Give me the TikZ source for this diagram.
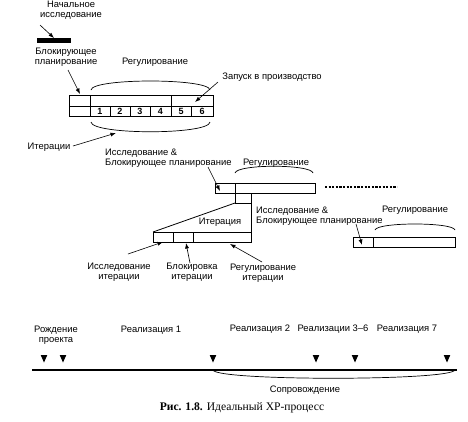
\documentclass[tikz,border=0pt]{standalone}
\usepackage{fontspec}
\setmainfont{Liberation Sans}
\newfontfamily\capfont{Liberation Serif}
\usetikzlibrary{arrows.meta}
\begin{document}
\begin{tikzpicture}[x=1pt,y=-1pt,
  lbl/.style={font=\fontsize{9.4}{10}\selectfont, inner sep=0pt, align=center},
  ptr/.style={-{Latex[length=5.5pt,width=4pt]}, line width=0.6pt},
  bar/.style={line width=0.8pt},
  brace/.style={line width=0.7pt},
]
\useasboundingbox (0,0) rectangle (468,421);

% ---------- labels ----------
\node[lbl] (start) at (71,10) {Начальное\\исследование};
\node[lbl] (block) at (66,57) {Блокирующее\\планирование};
\node[lbl] (reg1) at (155,62) {Регулирование};
\node[lbl] (launch) at (272,77) {Запуск в производство};
\node[lbl] (iters) at (49,147) {Итерации};
\node[lbl, align=left, anchor=west] (res2) at (105,158) {Исследование \&\\Блокирующее планирование};
\node[lbl] (reg2) at (276,163) {Регулирование};
\node[lbl] (itn) at (220,222) {Итерация};
\node[lbl, align=left, anchor=west] (res3) at (256,216) {Исследование \&\\Блокирующее планирование};
\node[lbl] (reg3) at (415,210) {Регулирование};
\node[lbl] (ri) at (119,272) {Исследование\\итерации};
\node[lbl] (bi) at (192,272) {Блокировка\\итерации};
\node[lbl] (gi) at (263,273) {Регулирование\\итерации};

\node[lbl] (birth) at (56,335) {Рождение\\проекта};
\node[lbl] (r1) at (151,330) {Реализация 1};
\node[lbl] (r2) at (260,329) {Реализация 2};
\node[lbl] (r36) at (333,329) {Реализации 3–6};
\node[lbl] (r7) at (407,329) {Реализация 7};
\node[lbl] (sup) at (305,390) {Сопровождение};

\node[font=\capfont\fontsize{11.6}{12}\selectfont, inner sep=0pt] (cap) at (242,408)
  {\textbf{Рис. 1.8.} Идеальный XP-процесс};

% ---------- initial research bar ----------
\fill (37,38) rectangle (71,42.5);

% ---------- first bar ----------
\draw[bar] (69,95) rectangle (213,116);
\draw[bar] (69,106) -- (213,106);
\draw[bar] (90,95) -- (90,116);
\draw[bar] (171,95) -- (171,116);
\foreach \x in {110,130,150,191} \draw[bar] (\x,106) -- (\x,116);
\foreach \n/\x in {1/100,2/120,3/140,4/160.5,5/181,6/202}
  \node[lbl, font=\fontsize{9}{10}\selectfont\bfseries] (c\n) at (\x,111.3) {\n};
\draw[brace] (91,90) .. controls (92,78) and (209,78) .. (210,90);
\draw[brace] (91,122) .. controls (92,135) and (209,135) .. (210,122);

% ---------- second bar ----------
\draw[bar] (215,183) rectangle (315,193);
\draw[bar] (235,183) -- (235,193);
\draw[brace] (235,173) .. controls (237,164) and (311,164) .. (313,173);
\draw[line width=2pt, dash pattern=on 2.2pt off 1.4pt] (325,187) -- (397,187);

% zoom lines to the iteration
\draw[bar] (235,193) -- (235,203) -- (251,203);
\draw[bar] (235,203) -- (153,232);
\draw[bar] (251,193) -- (251,242);

% ---------- iteration bar ----------
\draw[bar] (153,232) rectangle (251,242);
\draw[bar] (173,232) -- (173,242);
\draw[bar] (193,232) -- (193,242);

% ---------- third bar ----------
\draw[bar] (353,237) rectangle (455,247);
\draw[bar] (373,237) -- (373,247);
\draw[brace] (375,230) .. controls (377,222) and (453,222) .. (455,230);

% ---------- pointer arrows ----------
\coordinate (startA) at (40,25);   \coordinate (startT) at (54,38);
\coordinate (blockA) at (68,70);   \coordinate (blockT) at (80,94);
\coordinate (launchA) at (218,82); \coordinate (launchT) at (195,102);
\coordinate (itersA) at (73,146);  \coordinate (itersT) at (116,133);
\coordinate (res2A) at (208,167);  \coordinate (res2T) at (220,191);
\coordinate (res3A) at (356,224);  \coordinate (res3T) at (362,245);
\coordinate (riA) at (128,254);    \coordinate (riT) at (163,242);
\coordinate (biA) at (190,263);    \coordinate (biT) at (186,243);
\coordinate (giA) at (262,262);    \coordinate (giT) at (230,244);
\foreach \p in {start,block,launch,iters,res2,res3,ri,bi,gi}
  \draw[ptr] (\p A) -- (\p T);

% ---------- timeline ----------
\coordinate (tl0) at (32,370);
\coordinate (tl1) at (457,370);
\draw[line width=1.2pt] (tl0) -- (tl1);
\foreach \x in {44,63,213,316,355,447}
  \fill (\x-3.3,355) -- (\x+3.3,355) -- (\x,362.5) -- cycle;
\draw[brace] (213,370) .. controls (216,381) and (450,381) .. (455,370);
\end{tikzpicture}
\end{document}
